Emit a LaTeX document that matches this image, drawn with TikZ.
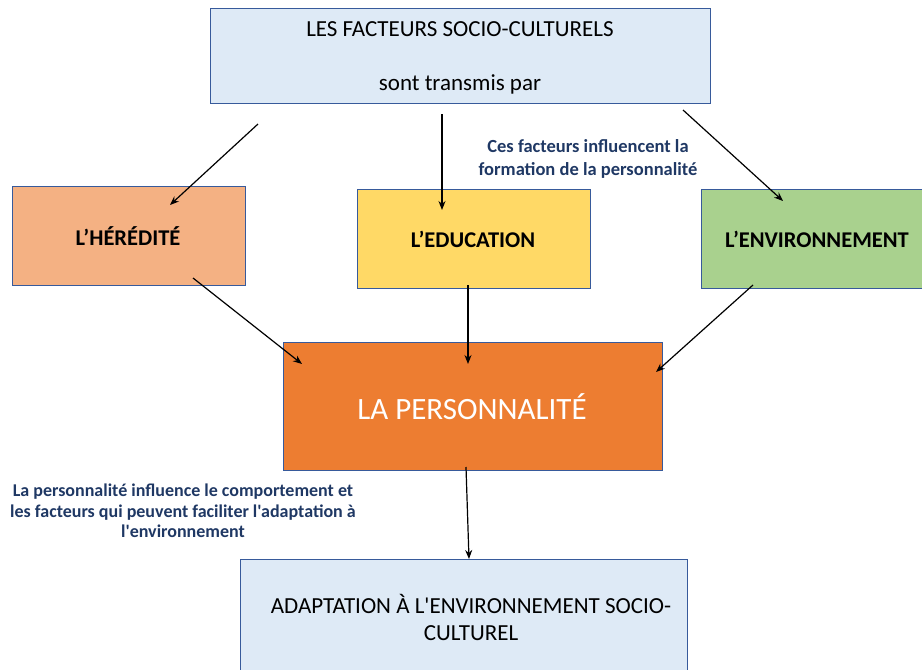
\documentclass[tikz,border=0pt]{standalone}
\usepackage{fontspec}
\setmainfont{Carlito}[Ligatures=TeXOff]
\usetikzlibrary{arrows.meta}
\definecolor{bordblue}{RGB}{55,90,155}
\definecolor{lightblue}{RGB}{222,234,246}
\definecolor{peach}{RGB}{244,177,131}
\definecolor{gold}{RGB}{255,217,102}
\definecolor{lgreen}{RGB}{169,209,142}
\definecolor{orng}{RGB}{237,125,49}
\definecolor{navy}{RGB}{31,56,100}
\tikzset{
  box/.style={draw=bordblue, line width=1.3pt, rectangle, inner sep=0pt, anchor=north west},
  arr/.style={-{Stealth[length=9pt,width=7pt]}, line width=1.2pt, black},
  lbl/.style={font=\bfseries\fontsize{22.5}{27}\selectfont},
  plain/.style={font=\fontsize{23}{27}\selectfont, align=center}
}
\begin{document}
\begin{tikzpicture}[x=1pt,y=-1pt]
\useasboundingbox (0,0) rectangle (922,670);
% boxes
\node[box, fill=lightblue, minimum width=500pt, minimum height=95pt] (top) at (210,8) {};
\node[plain] (toptxt1) at (460,29) {LES FACTEURS SOCIO-CULTURELS};
\node[plain] (toptxt2) at (460,84) {sont transmis par};
\node[box, fill=peach, minimum width=233pt, minimum height=99pt] (her) at (12,186) {};
\node[lbl] (hertxt) at (128,236) {L’HÉRÉDITÉ};
\node[box, fill=gold, minimum width=233pt, minimum height=99pt] (edu) at (357,189) {};
\node[lbl] (edutxt) at (473,239) {L’EDUCATION};
\node[box, fill=lgreen, minimum width=225pt, minimum height=99pt] (env) at (701,189) {};
\node[lbl] (envtxt) at (817,239) {L’ENVIRONNEMENT};
\node[box, fill=orng, minimum width=379pt, minimum height=128pt] (pers) at (283,342) {};
\node[font=\fontsize{31}{36}\selectfont, text=white] (perstxt) at (472,407) {LA PERSONNALITÉ};
\node[box, fill=lightblue, minimum width=447pt, minimum height=120pt] (adap) at (240,559) {};
\node[plain] (adaptxt) at (471,617) {ADAPTATION À L'ENVIRONNEMENT SOCIO-\\CULTUREL};
% notes
\node[text=navy, font=\bfseries\fontsize{18.5}{23}\selectfont, align=center] (note1) at (588,159) {Ces facteurs influencent la\\formation de la personnalité};
\node[text=navy, font=\bfseries\fontsize{18}{20.5}\selectfont, align=center] (note2) at (183,511) {La personnalité influence le comportement et\\les facteurs qui peuvent faciliter l'adaptation à\\l'environnement};
% arrows
\coordinate (a1s) at (258,124); \coordinate (a1e) at (170,205);
\coordinate (a2s) at (442,114); \coordinate (a2e) at (442,210);
\coordinate (a3s) at (683,110); \coordinate (a3e) at (783,201);
\coordinate (a4s) at (193,278); \coordinate (a4e) at (302,364);
\coordinate (a5s) at (468,285); \coordinate (a5e) at (468,364);
\coordinate (a6s) at (753,285); \coordinate (a6e) at (656,372);
\coordinate (a7s) at (466,467); \coordinate (a7e) at (469,559);
\draw[arr] (a1s) -- (a1e);
\draw[arr] (a2s) -- (a2e);
\draw[arr] (a3s) -- (a3e);
\draw[arr] (a4s) -- (a4e);
\draw[arr] (a5s) -- (a5e);
\draw[arr] (a6s) -- (a6e);
\draw[arr] (a7s) -- (a7e);
\end{tikzpicture}
\end{document}
